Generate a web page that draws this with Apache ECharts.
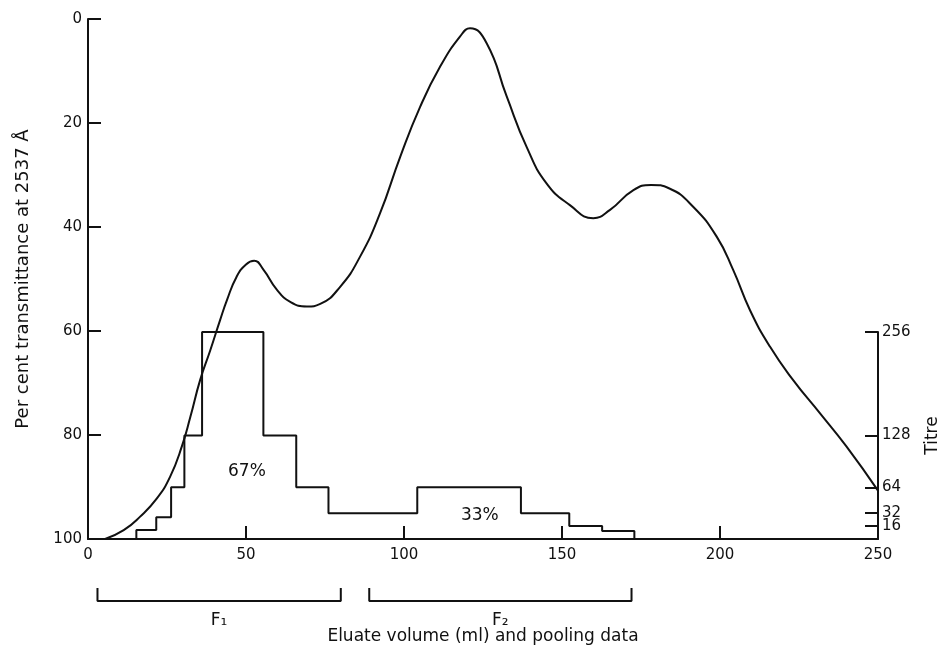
<!DOCTYPE html>
<html>
<head>
<meta charset="utf-8">
<script src="https://cdn.jsdelivr.net/npm/echarts@6/dist/echarts.min.js"></script>
<style>
  html, body { margin: 0; padding: 0; background: #fff; }
  #chart { width: 941px; height: 647px; }
</style>
</head>
<body>
<div id="chart"></div>
<script>
// elution curve (eluate volume ml, per cent transmittance)
var curveX = [5.4, 11.3, 16.5, 21.8, 26, 29.7, 32.4, 35.5, 38.7, 41.8, 44, 47, 50, 52.6, 55.5, 59.8, 64, 69.3, 73.5, 79.8, 86.1, 92.4, 98.8, 105.1, 111.4, 117.7, 120.9, 126.2, 132.5, 138.8, 145.1, 152.5, 159.9, 165.2, 172.6, 178.2, 184, 191.5, 199, 204.2, 209.5, 215.8, 223.1, 231.6, 240, 250];
var curveY = [100, 98.3, 95.7, 92.2, 88, 82.2, 76.5, 69.4, 63.7, 57.9, 54, 49.6, 47.2, 46.5, 48.2, 52.1, 54.4, 55.3, 54.8, 51.5, 45.7, 37.4, 26.5, 16.9, 9.2, 3.4, 1.8, 4.7, 14.9, 24.6, 31.6, 35.8, 38.3, 36.7, 32.9, 31.9, 32.6, 36.1, 41.9, 48.3, 56, 63, 69.4, 75.8, 82.2, 90.7];

// titre histogram: fraction edges (ml) and titre of each fraction
var histEdges = [15.3, 21.6, 26.3, 30.5, 36.1, 55.5, 65.9, 76.1, 104.2, 137.0, 152.3, 162.7, 172.9];
var histTitre = [11, 27, 64, 128, 256, 128, 64, 32, 64, 32, 16, 10];

var xTicks = [0, 50, 100, 150, 200, 250];
var titreTicks = [32, 64, 128, 256];
var titreLowTicks = [16];

// pooling data
var poolNames = ['F\u2081', 'F\u2082'];
var poolStart = [3, 89];
var poolEnd = [80, 172];
var poolShare = ['67%', '33%'];
var shareX = [50.3, 124];
var shareY = [87, 95.4];

var ink = '#111';
var font = 'DejaVu Sans';

var myChart = echarts.init(document.getElementById('chart'));

var curveData = [];
for (var i = 0; i < curveX.length; i++) {
    curveData.push([curveX[i], curveY[i]]);
}

var histData = [[histEdges[0], 0]];
for (var i = 0; i < histTitre.length; i++) {
    histData.push([histEdges[i], histTitre[i]]);
}
histData.push([histEdges[histEdges.length - 1], 0]);

var shareData = [];
for (var i = 0; i < poolShare.length; i++) {
    shareData.push({value: [shareX[i], shareY[i]], name: poolShare[i]});
}

var textLabel = {
    show: true,
    position: ['50%', '50%'],
    align: 'center',
    verticalAlign: 'middle',
    color: ink,
    opacity: 1,
    fontFamily: font,
    textBorderWidth: 0
};
var hiddenItem = {color: 'rgba(255,255,255,0)', opacity: 1};

var bracketSeries = [];
for (var i = 0; i < poolNames.length; i++) {
    bracketSeries.push({
        type: 'line',
        xAxisIndex: 2,
        yAxisIndex: 2,
        symbol: 'none',
        silent: true,
        lineStyle: {color: ink, width: 2},
        data: [[poolStart[i], 1], [poolStart[i], 0], [poolEnd[i], 0], [poolEnd[i], 1]]
    });
    bracketSeries.push({
        type: 'scatter',
        xAxisIndex: 2,
        yAxisIndex: 2,
        symbolSize: 1,
        silent: true,
        itemStyle: hiddenItem,
        label: Object.assign({formatter: poolNames[i], fontSize: 17}, textLabel),
        data: [[(poolStart[i] + poolEnd[i]) / 2, -1.5]]
    });
}

var tickLabel = {color: ink, fontFamily: font, fontSize: 15};

function titreAxis(values, withName) {
    return {
        gridIndex: 1,
        type: 'value',
        position: 'right',
        min: 0,
        max: 256,
        name: withName ? 'Titre' : '',
        nameLocation: 'middle',
        nameGap: 46,
        nameRotate: 90,
        nameTextStyle: {color: ink, fontFamily: font, fontSize: 17},
        axisLine: {show: withName, onZero: false, lineStyle: {color: ink, width: 2}},
        axisTick: {show: true, inside: true, length: 13, customValues: values, lineStyle: {color: ink, width: 2}},
        axisLabel: Object.assign({margin: 4, hideOverlap: false, showMinLabel: true, showMaxLabel: true, customValues: values}, tickLabel, {lineHeight: 12}),
        splitLine: {show: false}
    };
}

myChart.setOption({
    backgroundColor: '#fff',
    animation: false,
    grid: [
        {left: 88, right: 63, top: 19, bottom: 108, outerBoundsMode: 'none'},
        {left: 88, right: 63, top: 332, bottom: 108, outerBoundsMode: 'none'},
        {left: 88, right: 63, top: 588, height: 39, outerBoundsMode: 'none'}
    ],
    xAxis: [
        {
            gridIndex: 0,
            type: 'value',
            position: 'bottom',
            min: 0,
            max: 250,
            interval: 50,
            name: 'Eluate volume (ml) and pooling data',
            nameLocation: 'middle',
            nameGap: 89,
            nameTextStyle: {color: ink, fontFamily: font, fontSize: 17},
            axisLine: {onZero: false, lineStyle: {color: ink, width: 2}},
            axisTick: {inside: true, length: 13, lineStyle: {color: ink, width: 2}},
            axisLabel: Object.assign({margin: 9, formatter: function (v) {
                return xTicks.indexOf(v) >= 0 ? String(v) : '';
            }}, tickLabel),
            splitLine: {show: false}
        },
        {gridIndex: 1, type: 'value', min: 0, max: 250, show: false},
        {gridIndex: 2, type: 'value', min: 0, max: 250, show: false}
    ],
    yAxis: [
        {
            gridIndex: 0,
            type: 'value',
            position: 'left',
            inverse: true,
            min: 0,
            max: 100,
            interval: 20,
            name: 'Per cent transmittance at 2537 \u00c5',
            nameLocation: 'middle',
            nameGap: 56,
            nameRotate: 90,
            nameTextStyle: {color: ink, fontFamily: font, fontSize: 18},
            axisLine: {show: true, onZero: false, lineStyle: {color: ink, width: 2}},
            axisTick: {show: true, inside: true, length: 13, lineStyle: {color: ink, width: 2}},
            axisLabel: Object.assign({margin: 6}, tickLabel),
            splitLine: {show: false}
        },
        titreAxis(titreTicks, true),
        {gridIndex: 2, type: 'value', min: -2, max: 1, show: false},
        titreAxis(titreLowTicks, false)
    ],
    series: [
        {
            name: 'transmittance',
            type: 'line',
            xAxisIndex: 0,
            yAxisIndex: 0,
            smooth: 0.5,
            symbol: 'none',
            silent: true,
            lineStyle: {color: ink, width: 2},
            data: curveData
        },
        {
            name: 'titre',
            type: 'line',
            xAxisIndex: 1,
            yAxisIndex: 1,
            step: 'end',
            symbol: 'none',
            silent: true,
            lineStyle: {color: ink, width: 2},
            data: histData
        },
        {
            name: 'share',
            type: 'scatter',
            xAxisIndex: 0,
            yAxisIndex: 0,
            symbolSize: 1,
            silent: true,
            itemStyle: hiddenItem,
            label: Object.assign({formatter: '{b}', fontSize: 17}, textLabel),
            data: shareData
        }
    ].concat(bracketSeries)
});
</script>
</body>
</html>
